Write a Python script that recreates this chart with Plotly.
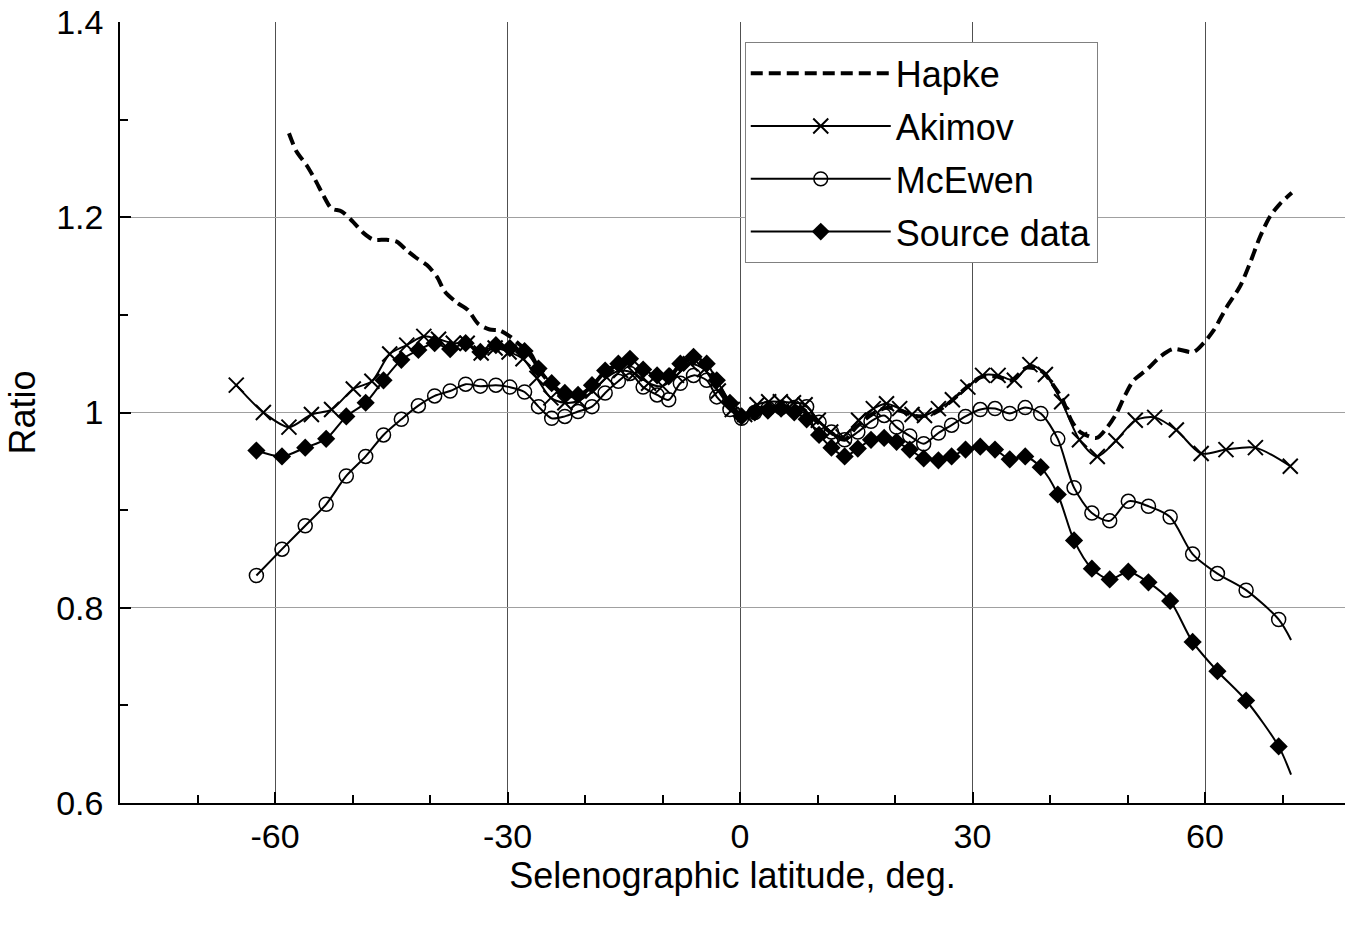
import plotly.graph_objects as go

# ---------------- data ----------------
hapke_x = [-58.2, -57.2, -55.9, -54.8, -53.8, -52.7, -51.4, -49.9, -48.6, -47.3, -45.6, -44.3,
           -43.0, -41.7, -40.4, -39.1, -38.1, -36.6, -35.1, -33.8, -32.3, -31.0, -29.7, -28.5,
           -27.0, -26.0, -24.3, -22.6, -20.9, -19.1, -17.4, -15.7, -14.2, -12.5, -10.7, -9.2,
           -7.7, -6.0, -4.3, -3.0, -1.3, 0.2, 2.0, 4.0, 6.0, 8.0, 10.0, 12.0, 13.5, 15.0, 17.0,
           19.0, 21.0, 23.0, 25.0, 27.0, 29.0, 31.0, 33.0, 35.0, 37.0, 39.0, 40.5, 41.5, 42.8,
           43.9, 46.0, 47.3, 48.5, 49.7, 50.8, 52.5, 54.2, 55.9, 58.5, 59.8, 61.1, 62.8, 64.5,
           65.8, 67.1, 68.4, 69.7, 71.2]
hapke_y = [1.286, 1.267, 1.253, 1.238, 1.223, 1.209, 1.206, 1.195, 1.184, 1.177, 1.177, 1.175,
           1.166, 1.158, 1.151, 1.139, 1.124, 1.113, 1.105, 1.091, 1.085, 1.084, 1.078, 1.070,
           1.060, 1.045, 1.028, 1.018, 1.017, 1.027, 1.042, 1.049, 1.054, 1.043, 1.037, 1.036,
           1.049, 1.056, 1.049, 1.032, 1.009, 0.997, 1.003, 1.006, 1.006, 1.004, 0.990, 0.978,
           0.972, 0.985, 0.998, 1.005, 1.001, 0.996, 0.999, 1.010, 1.024, 1.036, 1.037, 1.033,
           1.046, 1.042, 1.027, 1.015, 0.991, 0.980, 0.974, 0.984, 0.998, 1.018, 1.033, 1.044,
           1.057, 1.065, 1.062, 1.071, 1.084, 1.108, 1.129, 1.153, 1.180, 1.201, 1.214, 1.225]

akimov_x = [-65.0, -61.5, -58.2, -55.3, -52.7, -49.9, -47.5, -45.2, -43.0, -40.8, -38.9, -37.0,
            -35.2, -33.4, -31.6, -29.8, -28.0, -26.2, -24.4, -22.6, -20.8, -19.0, -17.2, -15.4,
            -13.6, -11.8, -10.0, -8.2, -6.4, -4.6, -2.8, -1.0, 0.6, 2.2, 3.7, 5.2, 6.9, 8.4,
            10.1, 11.7, 13.3, 15.3, 17.2, 18.9, 20.6, 22.2, 23.8, 25.6, 27.4, 29.4, 31.3, 33.3,
            35.4, 37.4, 39.4, 41.5, 43.8, 46.1, 48.5, 51.0, 53.5, 56.3, 59.5, 62.7, 66.5, 71.0]
akimov_y = [1.028, 1.000, 0.985, 0.998, 1.003, 1.024, 1.032, 1.060, 1.069, 1.078, 1.075, 1.071,
            1.071, 1.061, 1.066, 1.062, 1.055, 1.035, 1.015, 1.010, 1.012, 1.022, 1.036, 1.043,
            1.040, 1.030, 1.027, 1.038, 1.050, 1.044, 1.022, 1.003, 0.998, 1.008, 1.011, 1.011,
            1.010, 1.008, 0.992, 0.980, 0.975, 0.992, 1.004, 1.009, 1.004, 0.998, 0.997, 1.004,
            1.013, 1.026, 1.038, 1.038, 1.033, 1.049, 1.039, 1.011, 0.972, 0.955, 0.971, 0.992,
            0.995, 0.982, 0.958, 0.962, 0.964, 0.945]

# McEwen and source data share latitudes; the last value is the end of the line (no marker)
lat = [-62.4, -59.1, -56.1, -53.4, -50.8, -48.3, -46.0, -43.7, -41.5, -39.4, -37.4, -35.4,
       -33.5, -31.5, -29.7, -27.8, -26.0, -24.3, -22.6, -20.9, -19.1, -17.4, -15.7, -14.2,
       -12.5, -10.7, -9.2, -7.7, -6.0, -4.3, -3.0, -1.3, 0.2, 1.9, 3.6, 5.3, 7.0, 8.6, 10.2,
       11.8, 13.5, 15.2, 16.9, 18.6, 20.2, 21.9, 23.7, 25.6, 27.3, 29.1, 31.0, 32.9, 34.8,
       36.8, 38.8, 41.0, 43.1, 45.4, 47.7, 50.1, 52.7, 55.5, 58.4, 61.6, 65.3, 69.5, 71.1]
mcewen_y = [0.833, 0.860, 0.884, 0.906, 0.935, 0.955, 0.977, 0.993, 1.007, 1.017, 1.022, 1.029,
            1.027, 1.028, 1.026, 1.021, 1.006, 0.994, 0.996, 1.001, 1.006, 1.020, 1.032, 1.040,
            1.026, 1.018, 1.013, 1.030, 1.038, 1.033, 1.016, 1.003, 0.994, 1.000, 1.004, 1.005,
            1.005, 1.006, 0.990, 0.980, 0.972, 0.980, 0.991, 0.997, 0.985, 0.976, 0.968, 0.979,
            0.987, 0.996, 1.003, 1.004, 0.999, 1.005, 0.999, 0.973, 0.923, 0.897, 0.889, 0.909,
            0.904, 0.893, 0.855, 0.835, 0.818, 0.788, 0.767]
source_y = [0.961, 0.955, 0.964, 0.973, 0.996, 1.010, 1.033, 1.054, 1.064, 1.071, 1.065, 1.071,
            1.062, 1.069, 1.066, 1.063, 1.045, 1.030, 1.020, 1.018, 1.028, 1.043, 1.050, 1.055,
            1.044, 1.038, 1.037, 1.050, 1.057, 1.050, 1.033, 1.010, 0.996, 1.000, 1.002, 1.004,
            1.000, 0.993, 0.977, 0.964, 0.955, 0.963, 0.972, 0.974, 0.970, 0.962, 0.953, 0.951,
            0.955, 0.962, 0.965, 0.962, 0.952, 0.955, 0.944, 0.916, 0.869, 0.840, 0.829, 0.837,
            0.826, 0.807, 0.765, 0.735, 0.705, 0.658, 0.629]

x_tick_vals = [-60, -30, 0, 30, 60]
x_tick_text = ["-60", "-30", "0", "30", "60"]
series_names = ["Hapke", "Akimov", "McEwen", "Source data"]

# ---------------- figure ----------------
FONT = "Liberation Sans, Arial, sans-serif"
n_lat = len(lat)
circle_sizes = [14] * (n_lat - 1) + [0]
circle_lw = [1.5] * (n_lat - 1) + [0]
diamond_sizes = [14] * (n_lat - 1) + [0]

fig = go.Figure()
fig.add_trace(go.Scatter(
    x=hapke_x, y=hapke_y, name=series_names[0], mode="lines", legendgroup="a",
    line=dict(color="black", width=4, dash="12px,6px", shape="spline", smoothing=0.8)))
fig.add_trace(go.Scatter(
    x=akimov_x, y=akimov_y, name=series_names[1], mode="lines+markers", legendgroup="b",
    line=dict(color="black", width=2, shape="spline", smoothing=0.8),
    marker=dict(symbol="x-thin", size=15, color="black", opacity=1,
                line=dict(color="black", width=2))))
fig.add_trace(go.Scatter(
    x=lat, y=mcewen_y, name=series_names[2], mode="lines+markers", legendgroup="c",
    line=dict(color="black", width=2, shape="spline", smoothing=0.8),
    marker=dict(symbol="circle-open", size=circle_sizes, color="black", opacity=1,
                line=dict(color="black", width=circle_lw))))
fig.add_trace(go.Scatter(
    x=lat, y=source_y, name=series_names[3], mode="lines+markers", legendgroup="d",
    line=dict(color="black", width=2, shape="spline", smoothing=0.8),
    marker=dict(symbol="diamond", size=diamond_sizes, color="black", opacity=1,
                line=dict(width=0))))

fig.update_layout(
    width=1345, height=951,
    margin=dict(l=120, r=0, t=22, b=148),
    paper_bgcolor="white", plot_bgcolor="white",
    font=dict(family=FONT, size=34, color="black"),
    showlegend=True,
    legend=dict(x=0.510, y=0.974, xanchor="left", yanchor="top",
                bgcolor="white", bordercolor="#808080", borderwidth=1,
                font=dict(family=FONT, size=36, color="black"),
                itemwidth=140, traceorder="grouped", tracegroupgap=3,
                itemclick=False),
)
fig.update_xaxes(
    range=[-80, 78.06], tickvals=x_tick_vals, ticktext=x_tick_text,
    showgrid=True, gridcolor="#505050", gridwidth=1, zeroline=False,
    showline=True, linecolor="black", linewidth=1.5,
    ticks="inside", ticklen=11, tickcolor="black", tickwidth=1.5,
    minor=dict(dtick=10, tick0=0, ticks="inside", ticklen=8, tickcolor="black",
               tickwidth=1.5, showgrid=False),
    tickfont=dict(size=34), ticklabelstandoff=2,
    title=dict(text="Selenographic latitude, deg.", font=dict(size=36), standoff=4),
)
fig.update_yaxes(
    range=[0.6, 1.4], dtick=0.2, tick0=0.6,
    showgrid=True, gridcolor="#a0a0a0", gridwidth=1, zeroline=False,
    showline=True, linecolor="black", linewidth=1.5,
    ticks="inside", ticklen=11, tickcolor="black", tickwidth=1.5,
    minor=dict(dtick=0.1, ticks="inside", ticklen=8, tickcolor="black",
               tickwidth=1.5, showgrid=False),
    tickfont=dict(size=34), ticklabelstandoff=8,
    title=dict(text="Ratio", font=dict(size=36), standoff=10),
)

fig.write_html("out.html")
